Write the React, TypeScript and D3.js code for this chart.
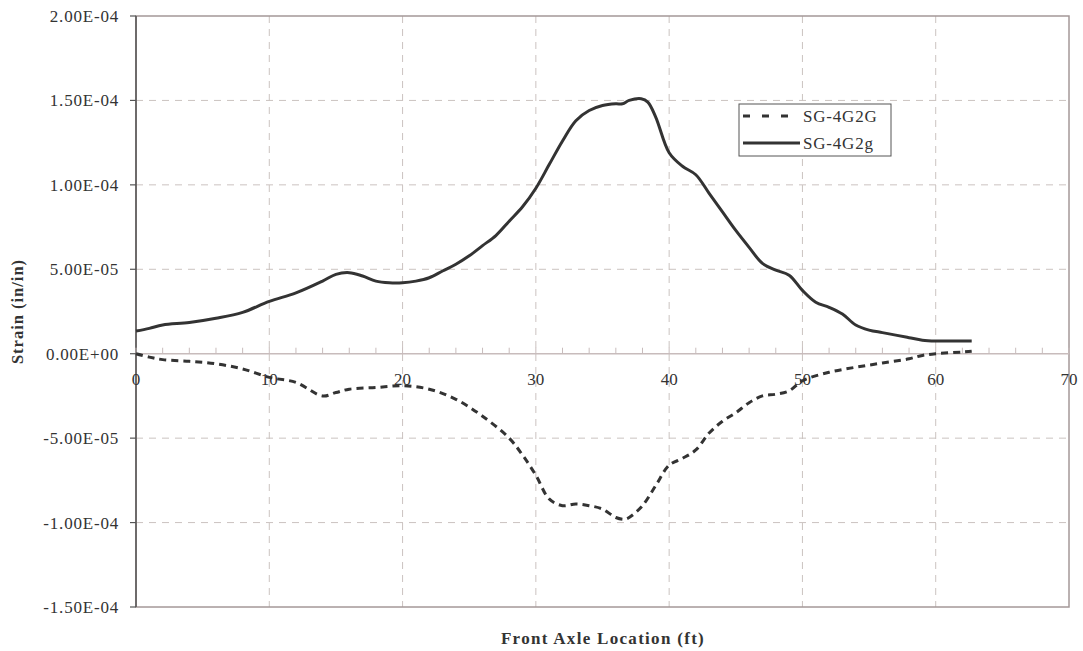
import React from "react";
import * as d3 from "d3";

const xG = [0, 1, 2, 4, 6, 8, 10, 12, 14, 15, 16, 17, 18, 19, 20, 21, 22, 23, 24, 25, 26, 27, 28, 29, 30, 31, 32, 33, 34, 35, 36, 36.5, 37, 37.9, 38.4, 39, 40, 41, 42, 43, 44, 45, 46, 47, 48, 49, 50, 51, 52, 53, 54, 55, 56, 57, 58, 59, 60, 61, 62.7];
const sg4G2g = [1.34, 1.5, 1.7, 1.85, 2.1, 2.45, 3.1, 3.6, 4.3, 4.7, 4.8, 4.6, 4.3, 4.2, 4.2, 4.3, 4.5, 4.9, 5.3, 5.8, 6.4, 7.0, 7.85, 8.7, 9.8, 11.2, 12.6, 13.8, 14.4, 14.7, 14.8, 14.8, 15.0, 15.1, 14.9, 14.0, 11.9, 11.1, 10.6, 9.5, 8.4, 7.3, 6.3, 5.35, 4.95, 4.65, 3.75, 3.05, 2.75, 2.35, 1.7, 1.4, 1.25, 1.1, 0.95, 0.8, 0.75, 0.75, 0.75];

const xD = [0, 1, 2, 4, 6, 8, 10, 12, 14, 15, 16, 18, 20, 22, 24, 26, 28, 29, 30, 31, 32, 33, 34, 35, 36, 36.7, 37, 38, 39, 40, 41, 42, 43, 44, 45, 46, 47, 48, 49, 50, 52, 54, 56, 58, 59, 60, 62, 62.7];
const sg4G2G = [0, -0.2, -0.35, -0.45, -0.6, -0.9, -1.4, -1.7, -2.5, -2.3, -2.1, -2.0, -1.9, -2.1, -2.7, -3.7, -5.0, -6.0, -7.2, -8.6, -9.0, -8.9, -9.0, -9.2, -9.7, -9.8, -9.7, -9.0, -7.8, -6.6, -6.2, -5.7, -4.7, -4.0, -3.5, -2.9, -2.5, -2.4, -2.2, -1.6, -1.1, -0.8, -0.55, -0.3, -0.1, 0, 0.1, 0.15];

const yTicks = [2e-4, 1.5e-4, 1e-4, 5e-5, 0, -5e-5, -1e-4, -1.5e-4];
const yTickLabels = ["2.00E-04", "1.50E-04", "1.00E-04", "5.00E-05", "0.00E+00", "-5.00E-05", "-1.00E-04", "-1.50E-04"];
const xTicks = [0, 10, 20, 30, 40, 50, 60, 70];

const L = 136, R = 1069, T = 16, B = 607;

export default function App() {
  const x = d3.scaleLinear().domain([0, 70]).range([L, R]);
  const y = d3.scaleLinear().domain([-1.5e-4, 2e-4]).range([B, T]);
  const line = d3.line<[number, number]>().x(d => x(d[0])).y(d => y(d[1])).curve(d3.curveCatmullRom.alpha(0.5));
  const solid = line(xG.map((v, i) => [v, sg4G2g[i] * 1e-5]))!;
  const dashed = line(xD.map((v, i) => [v, sg4G2G[i] * 1e-5]))!;
  const minor = d3.range(0, 70.01, 2);
  const font = "'Liberation Serif', 'Times New Roman', serif";
  return (
    <svg width={1083} height={651} style={{ position: "absolute", left: 0, top: 0 }} fontFamily={font}>
      <rect width={1083} height={651} fill="#fff" />
      {yTicks.filter(t => t !== 0 && t !== 2e-4 && t !== -1.5e-4).map(t => (
        <line key={"gy" + t} x1={L} x2={R} y1={y(t)} y2={y(t)} stroke="#cbc3c0" strokeWidth={1} strokeDasharray="7,6" />
      ))}
      {xTicks.filter(t => t !== 0 && t !== 70).map(t => (
        <line key={"gx" + t} x1={x(t)} x2={x(t)} y1={T} y2={B} stroke="#cbc3c0" strokeWidth={1} strokeDasharray="7,6" />
      ))}
      <rect x={L} y={T} width={R - L} height={B - T} fill="none" stroke="#a49898" strokeWidth={1.5} />
      <line x1={L} x2={L} y1={T} y2={B} stroke="#555" strokeWidth={1.5} />
      <line x1={L} x2={R} y1={y(0)} y2={y(0)} stroke="#c8bcbc" strokeWidth={1.5} />
      {minor.map(t => (
        <line key={"mt" + t} x1={x(t)} x2={x(t)} y1={y(0) - 6} y2={y(0)} stroke="#c8bcbc" strokeWidth={1} />
      ))}
      {yTicks.map(t => (
        <line key={"yt" + t} x1={L - 6} x2={L} y1={y(t)} y2={y(t)} stroke="#555" strokeWidth={1.2} />
      ))}
      {yTicks.map((t, i) => (
        <text key={"yl" + t} x={119} y={y(t) + 6} textAnchor="end" fontSize={17} letterSpacing={0.8} fill="#333">{yTickLabels[i]}</text>
      ))}
      {xTicks.map(t => (
        <text key={"xl" + t} x={x(t)} y={y(0) + 31} textAnchor="middle" fontSize={17} fill="#333">{t}</text>
      ))}
      <path d={dashed} fill="none" stroke="#333" strokeWidth={3} strokeDasharray="7,5" />
      <path d={solid} fill="none" stroke="#333" strokeWidth={3} />
      <g>
        <rect x={739} y={104} width={152} height={52} fill="#fff" stroke="#555" strokeWidth={1} />
        <line x1={743} x2={800} y1={116} y2={116} stroke="#333" strokeWidth={3} strokeDasharray="7,12" />
        <line x1={743} x2={800} y1={143} y2={143} stroke="#333" strokeWidth={3} />
        <text x={803} y={122} fontSize={17} letterSpacing={0.8} fill="#333">SG-4G2G</text>
        <text x={803} y={149} fontSize={17} letterSpacing={0.8} fill="#333">SG-4G2g</text>
      </g>
      <text x={603} y={644} textAnchor="middle" fontSize={17} fontWeight="bold" letterSpacing={1.3} fill="#333">Front Axle Location (ft)</text>
      <text transform={`translate(23,${(T + B) / 2}) rotate(-90)`} textAnchor="middle" fontSize={16.5} fontWeight="bold" letterSpacing={1} fill="#333">Strain (in/in)</text>
    </svg>
  );
}
